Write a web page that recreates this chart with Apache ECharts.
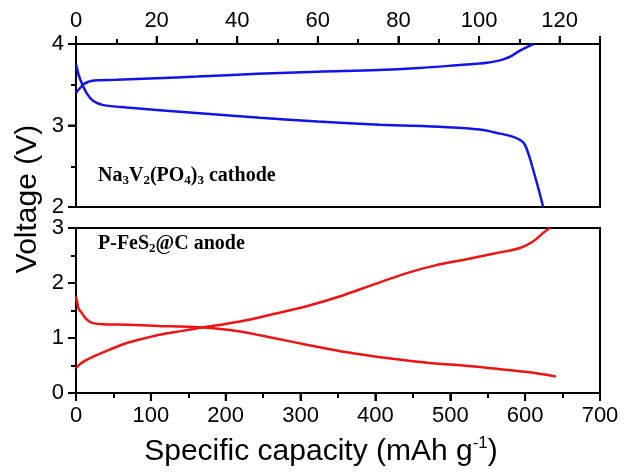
<!DOCTYPE html>
<html>
<head>
<meta charset="utf-8">
<script src="https://cdn.jsdelivr.net/npm/echarts@6/dist/echarts.min.js"></script>
<style>
html,body{margin:0;padding:0;background:#fff;}
#chart{width:624px;height:475px;}
</style>
</head>
<body>
<div id="chart"></div>
<script>
// Top panel: Na3V2(PO4)3 cathode (x: 0-130 mAh/g, y: 2-4 V)
var cathodeChargeCap = [0, 1, 2, 3, 4, 6, 10, 20, 30, 45, 60, 75, 85, 96, 100, 102, 104, 106, 108, 110, 112, 113.5];
var cathodeChargeV   = [3.40, 3.46, 3.51, 3.535, 3.55, 3.555, 3.56, 3.58, 3.60, 3.635, 3.66, 3.68, 3.705, 3.745, 3.76, 3.77, 3.787, 3.812, 3.852, 3.915, 3.965, 4.0];
var cathodeDischCap  = [0, 1, 2.6, 4.3, 6.8, 12.6, 29, 45.6, 60, 75.4, 92, 100.2, 105.2, 108.5, 111, 112.2, 113.4, 114.7, 115.9];
var cathodeDischV    = [3.75, 3.57, 3.40, 3.30, 3.25, 3.22, 3.157, 3.095, 3.05, 3.01, 2.98, 2.95, 2.90, 2.86, 2.79, 2.66, 2.46, 2.23, 2.0];

// Bottom panel: P-FeS2@C anode (x: 0-700 mAh/g, y: 0-3 V)
var anodeChargeCap = [0, 5, 10, 23, 45, 68, 90, 112, 140, 166, 219, 264, 308, 353, 397, 442, 480, 517, 562, 593, 611, 624, 633];
var anodeChargeV   = [0.45, 0.52, 0.57, 0.66, 0.79, 0.91, 0.99, 1.06, 1.125, 1.185, 1.30, 1.436, 1.576, 1.758, 1.97, 2.18, 2.32, 2.42, 2.545, 2.636, 2.76, 2.91, 3.0];
var anodeDischCap  = [0, 2, 4, 7.6, 12, 18, 23, 35, 68, 110, 157, 190, 219, 264, 308, 353, 397, 442, 480, 517, 562, 606, 641];
var anodeDischV    = [1.76, 1.62, 1.52, 1.46, 1.37, 1.30, 1.27, 1.25, 1.24, 1.22, 1.20, 1.17, 1.12, 1.0, 0.878, 0.758, 0.667, 0.59, 0.535, 0.50, 0.44, 0.376, 0.30];

// Axis ranges and major tick values
var topX = { min: 0, max: 130, major: 20 };
var botX = { min: 0, max: 700, major: 100 };
var topY = { min: 2, max: 4, major: 1 };
var botY = { min: 0, max: 3, major: 1 };
var topXTicks = [0, 20, 40, 60, 80, 100, 120];
var botXTicks = [0, 100, 200, 300, 400, 500, 600, 700];
var topYTicks = [2, 3, 4];
var botYTicks = [0, 1, 2, 3];

function pairs(xs, ys) { return xs.map(function (x, i) { return [x, ys[i]]; }); }

var FONT = '"Liberation Sans", Arial, sans-serif';
var SERIF = '"Liberation Serif", "Times New Roman", serif';

function mainAxis(grid, r, extra) {
  return Object.assign({
    gridIndex: grid, type: 'value', min: r.min, max: r.max, interval: r.major,
    axisLine: { show: true, onZero: false, lineStyle: { color: '#000', width: 2 } },
    axisTick: { show: true, length: 8, lineStyle: { color: '#000', width: 2 } },
    minorTick: { show: true, splitNumber: 2, length: 5, lineStyle: { color: '#000', width: 2 } },
    splitLine: { show: false },
    minorSplitLine: { show: false },
    axisLabel: { margin: 12, color: '#000', fontSize: 22, fontFamily: FONT }
  }, extra || {});
}

var textGraphics = [
  { type: 'text', left: 98, top: 166, z: 10,
    style: { text: '{m|Na}{s|3}{m|V}{s|2}{m|(PO}{s|4}{m|)}{s|3}{m| cathode}',
      rich: { m: { fontFamily: SERIF, fontWeight: 'bold', fontSize: 20, lineHeight: 22, fill: '#000', color: '#000' },
              s: { fontFamily: SERIF, fontWeight: 'bold', fontSize: 13, lineHeight: 12, verticalAlign: 'bottom', fill: '#000', color: '#000' } } } },
  { type: 'text', left: 98, top: 234, z: 10,
    style: { text: '{m|P-FeS}{s|2}{m|@C anode}',
      rich: { m: { fontFamily: SERIF, fontWeight: 'bold', fontSize: 20, lineHeight: 22, fill: '#000', color: '#000' },
              s: { fontFamily: SERIF, fontWeight: 'bold', fontSize: 13, lineHeight: 12, verticalAlign: 'bottom', fill: '#000', color: '#000' } } } },
  { type: 'text', x: 28, y: 199, rotation: Math.PI / 2, z: 10,
    style: { text: 'Voltage (V)', fontFamily: FONT, fontSize: 30, fill: '#000', align: 'center', verticalAlign: 'middle' } },
  { type: 'text', x: 321, y: 452, z: 10,
    style: { text: '{m|Specific capacity (mAh g}{p|-1}{m|)}', align: 'center', verticalAlign: 'middle',
      rich: { m: { fontFamily: FONT, fontSize: 30, lineHeight: 34, fill: '#000', color: '#000' },
              p: { fontFamily: FONT, fontSize: 17, lineHeight: 18, verticalAlign: 'top', fill: '#000', color: '#000' } } } }
];

var chart = echarts.init(document.getElementById('chart'));
var option = {
  animation: false,
  backgroundColor: '#fff',
  grid: [
    { left: 76, top: 44, width: 524, height: 163, show: true, borderColor: '#000', borderWidth: 2, backgroundColor: 'transparent' },
    { left: 76, top: 228, width: 524, height: 165, show: true, borderColor: '#000', borderWidth: 2, backgroundColor: 'transparent' }
  ],
  xAxis: [
    mainAxis(0, topX, { position: 'top', axisLabel: { margin: 12, color: '#000', fontSize: 22, fontFamily: FONT, showMaxLabel: false } }),
    mainAxis(1, botX, { position: 'bottom' })
  ],
  yAxis: [
    mainAxis(0, topY, { position: 'left' }),
    mainAxis(1, botY, { position: 'left' })
  ],
  series: [
    { type: 'line', xAxisIndex: 0, yAxisIndex: 0, data: pairs(cathodeChargeCap, cathodeChargeV), smooth: 0.35, showSymbol: false, lineStyle: { color: '#1414e6', width: 2.5 } },
    { type: 'line', xAxisIndex: 0, yAxisIndex: 0, data: pairs(cathodeDischCap, cathodeDischV), smooth: 0.35, showSymbol: false, lineStyle: { color: '#1414e6', width: 2.5 } },
    { type: 'line', xAxisIndex: 1, yAxisIndex: 1, data: pairs(anodeChargeCap, anodeChargeV), smooth: 0.35, showSymbol: false, lineStyle: { color: '#ee1414', width: 2.5 } },
    { type: 'line', xAxisIndex: 1, yAxisIndex: 1, data: pairs(anodeDischCap, anodeDischV), smooth: 0.35, showSymbol: false, lineStyle: { color: '#ee1414', width: 2.5 } }
  ]
};
chart.setOption(option);

// Major ticks placed through the library's own axis scales (convertToPixel)
var TL = 8;
var tickEls = [];
function tickLine(x1, y1, x2, y2) {
  tickEls.push({ type: 'line', z: 9, silent: true, shape: { x1: x1, y1: y1, x2: x2, y2: y2 }, style: { stroke: '#000', lineWidth: 2 } });
}
var topLineY = chart.convertToPixel({ yAxisIndex: 0 }, topY.max);
var botLineY = chart.convertToPixel({ yAxisIndex: 1 }, botY.min);
var leftLineX = chart.convertToPixel({ xAxisIndex: 0 }, topX.min);
topXTicks.forEach(function (v) { var px = chart.convertToPixel({ xAxisIndex: 0 }, v); tickLine(px, topLineY, px, topLineY - TL); });
botXTicks.forEach(function (v) { var px = chart.convertToPixel({ xAxisIndex: 1 }, v); tickLine(px, botLineY, px, botLineY + TL); });
topYTicks.forEach(function (v) { var py = chart.convertToPixel({ yAxisIndex: 0 }, v); tickLine(leftLineX, py, leftLineX - TL, py); });
botYTicks.forEach(function (v) { var py = chart.convertToPixel({ yAxisIndex: 1 }, v); tickLine(leftLineX, py, leftLineX - TL, py); });

chart.setOption({ graphic: textGraphics.concat(tickEls) });
</script>
</body>
</html>
